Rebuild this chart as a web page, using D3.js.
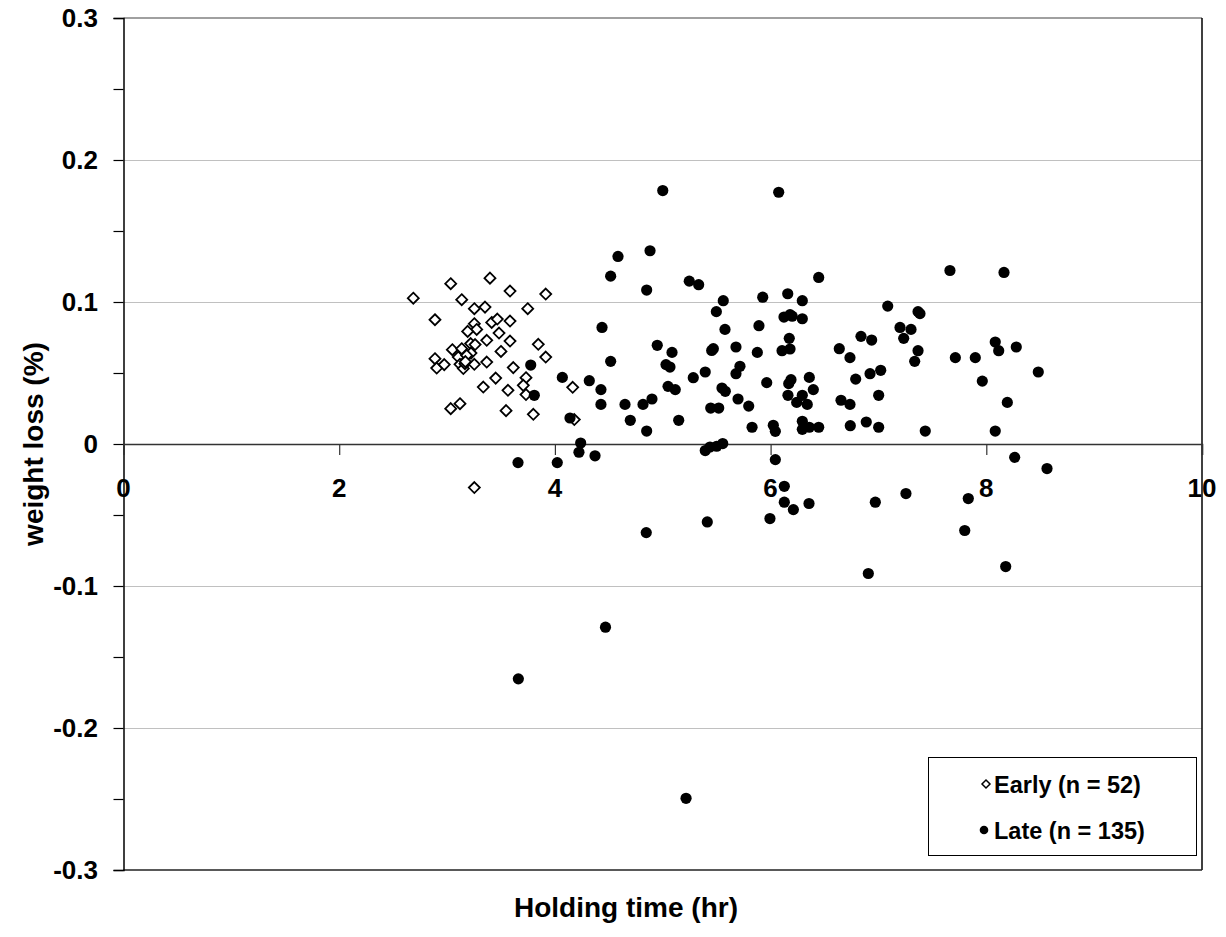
<!DOCTYPE html>
<html>
<head>
  <meta charset="utf-8">
  <script src="https://d3js.org/d3.v7.min.js"></script>
  <style>
    body { margin: 0; background: #fff; }
    text { font-family: "Liberation Sans", Arial, sans-serif; font-weight: bold; fill: #000; }
  </style>
</head>
<body>
  <div id="chart"></div>
  <script>
    // Early (diamonds)
    var earlyX = [2.687, 3.034, 3.398, 3.584, 3.915, 3.136, 3.253, 3.352, 3.748, 2.888,
                  3.253, 3.414, 3.466, 3.584, 3.275, 3.191, 3.482, 3.368, 3.584, 3.219,
                  3.846, 3.049, 3.136, 3.500, 3.222, 3.104, 3.182, 3.915, 2.888, 2.904,
                  2.974, 3.120, 3.151, 3.166, 3.253, 3.368, 3.614, 3.451, 3.732, 3.336,
                  3.707, 3.565, 3.732, 4.165, 3.034, 3.120, 3.547, 3.800, 4.180, 3.253,
                  3.170, 3.260];
    var earlyY = [0.1027, 0.1129, 0.1168, 0.1077, 0.1056, 0.1016, 0.0953, 0.0964, 0.0953, 0.0875,
                  0.0847, 0.0856, 0.0880, 0.0866, 0.0807, 0.0793, 0.0781, 0.0730, 0.0725, 0.0707,
                  0.0702, 0.0664, 0.0671, 0.0652, 0.0640, 0.0612, 0.0624, 0.0612, 0.0601, 0.0535,
                  0.0559, 0.0561, 0.0531, 0.0566, 0.0561, 0.0577, 0.0538, 0.0464, 0.0467, 0.0401,
                  0.0413, 0.0378, 0.0348, 0.0399, 0.0249, 0.0284, 0.0235, 0.0209, 0.0172, -0.0307,
                  0.0580, 0.0700];

    // Late (filled circles)
    var lateX = [3.776, 4.069, 4.319, 4.437, 4.427, 4.427, 3.809, 4.140, 4.239, 4.223,
                 4.372, 3.658, 4.022, 5.000, 6.075, 4.585, 4.882, 4.517, 4.851, 5.246,
                 5.333, 6.446, 5.561, 5.497, 5.927, 6.159, 6.294, 6.124, 6.180, 6.294,
                 5.892, 5.577, 6.173, 4.949, 5.086, 5.454, 5.469, 5.679, 5.877, 6.106,
                 6.180, 4.517, 5.030, 5.067, 5.716, 5.679, 5.394, 5.283, 5.964, 6.359,
                 6.168, 6.189, 6.396, 5.049, 5.116, 5.549, 5.580, 5.698, 5.797, 6.161,
                 6.242, 6.294, 6.340, 4.650, 4.817, 4.900, 5.445, 5.519, 4.699, 5.148,
                 4.851, 5.828, 6.025, 6.044, 6.294, 6.294, 6.359, 6.446, 5.394, 5.438,
                 5.500, 5.556, 6.044, 7.663, 8.164, 7.086, 7.367, 7.385, 7.200, 7.302,
                 7.234, 6.838, 6.937, 6.637, 6.736, 7.367, 7.336, 7.713, 7.898, 8.083,
                 8.115, 8.278, 8.482, 7.963, 6.789, 6.922, 7.021, 6.653, 6.736, 7.002,
                 8.195, 6.739, 6.887, 7.002, 7.434, 8.083, 8.263, 8.563, 6.127, 6.127,
                 6.211, 6.356, 5.994, 5.413, 4.847, 4.469, 6.971, 7.255, 7.833, 7.800,
                 8.180, 6.906, 3.661, 5.216, 6.200];
    var lateY = [0.0556, 0.0469, 0.0446, 0.0821, 0.0383, 0.0279, 0.0343, 0.0183, 0.0007, -0.0058,
                 -0.0083, -0.0131, -0.0131, 0.1785, 0.1773, 0.1321, 0.1361, 0.1182, 0.1084, 0.1147,
                 0.1122, 0.1173, 0.1009, 0.0932, 0.1034, 0.1058, 0.1009, 0.0894, 0.0911, 0.0882,
                 0.0833, 0.0807, 0.0744, 0.0695, 0.0645, 0.0659, 0.0671, 0.0683, 0.0645, 0.0657,
                 0.0669, 0.0582, 0.0559, 0.0542, 0.0547, 0.0495, 0.0507, 0.0467, 0.0432, 0.0469,
                 0.0425, 0.0453, 0.0383, 0.0406, 0.0383, 0.0394, 0.0371, 0.0317, 0.0267, 0.0343,
                 0.0293, 0.0343, 0.0279, 0.0279, 0.0279, 0.0317, 0.0253, 0.0253, 0.0167, 0.0167,
                 0.0091, 0.0118, 0.0132, 0.0089, 0.0160, 0.0103, 0.0118, 0.0118, -0.0046, -0.0021,
                 -0.0016, 0.0003, -0.0110, 0.1222, 0.1208, 0.0971, 0.0932, 0.0918, 0.0821, 0.0807,
                 0.0744, 0.0758, 0.0732, 0.0671, 0.0608, 0.0657, 0.0582, 0.0608, 0.0608, 0.0718,
                 0.0657, 0.0683, 0.0507, 0.0443, 0.0457, 0.0495, 0.0519, 0.0308, 0.0279, 0.0343,
                 0.0293, 0.0129, 0.0155, 0.0118, 0.0091, 0.0091, -0.0094, -0.0173, -0.0298, -0.0410,
                 -0.0462, -0.0419, -0.0525, -0.0549, -0.0624, -0.1290, -0.0410, -0.0349, -0.0384, -0.0609,
                 -0.0863, -0.0912, -0.1654, -0.2495, 0.0900];

    var xTicks = [0, 2, 4, 6, 8, 10];
    var yTicks = [0.3, 0.2, 0.1, 0, -0.1, -0.2, -0.3];
    var yMinorTicks = [0.3, 0.25, 0.2, 0.15, 0.1, 0.05, 0, -0.05, -0.1, -0.15, -0.2, -0.25, -0.3];
    var legendLabels = ["Early (n = 52)", "Late (n = 135)"];

    var width = 1226, height = 937;
    var plotLeft = 123.5, plotRight = 1202, plotTop = 18, plotBottom = 870;

    var x = d3.scaleLinear().domain([0, 10]).range([plotLeft, plotRight]);
    var y = d3.scaleLinear().domain([-0.3, 0.3]).range([plotBottom, plotTop]);

    var svg = d3.select("#chart").append("svg")
      .attr("width", width)
      .attr("height", height);

    // gridlines
    svg.append("g")
      .selectAll("line")
      .data([0.2, 0.1, -0.1, -0.2])
      .enter().append("line")
      .attr("x1", plotLeft).attr("x2", plotRight)
      .attr("y1", function (d) { return Math.round(y(d)) + 0.5; })
      .attr("y2", function (d) { return Math.round(y(d)) + 0.5; })
      .attr("stroke", "#c0c0c0")
      .attr("stroke-width", 1);

    // plot frame: top gray, right & bottom dark
    svg.append("line")
      .attr("x1", plotLeft).attr("x2", plotRight)
      .attr("y1", y(0.3)).attr("y2", y(0.3))
      .attr("stroke", "#808080").attr("stroke-width", 1.5);
    svg.append("line")
      .attr("x1", plotRight).attr("x2", plotRight)
      .attr("y1", plotTop).attr("y2", plotBottom)
      .attr("stroke", "#000").attr("stroke-width", 1.5);
    svg.append("line")
      .attr("x1", plotLeft).attr("x2", plotRight)
      .attr("y1", plotBottom).attr("y2", plotBottom)
      .attr("stroke", "#222").attr("stroke-width", 1.5);

    // y axis
    var yAxis = d3.axisLeft(y)
      .tickValues(yMinorTicks)
      .tickSize(10)
      .tickFormat("");
    var yg = svg.append("g")
      .attr("transform", "translate(" + plotLeft + ",0)")
      .call(yAxis);
    yg.select(".domain").attr("stroke", "#000").attr("stroke-width", 1.5);
    yg.selectAll(".tick line").attr("stroke", "#000").attr("stroke-width", 1.2);

    svg.append("g")
      .selectAll("text")
      .data(yTicks)
      .enter().append("text")
      .attr("x", 98)
      .attr("y", function (d) { return y(d); })
      .attr("dy", "0.36em")
      .attr("text-anchor", "end")
      .attr("font-size", 26)
      .text(function (d) { return String(d); });

    // x axis at y = 0
    var xAxis = d3.axisBottom(x)
      .tickValues(xTicks)
      .tickSize(11)
      .tickFormat("");
    var xg = svg.append("g")
      .attr("transform", "translate(0," + y(0) + ")")
      .call(xAxis);
    xg.select(".domain").attr("stroke", "#333").attr("stroke-width", 1.5);
    xg.selectAll(".tick line").attr("stroke", "#333").attr("stroke-width", 1.2);

    svg.append("g")
      .selectAll("text")
      .data(xTicks)
      .enter().append("text")
      .attr("x", function (d) { return x(d); })
      .attr("y", y(0) + 53)
      .attr("text-anchor", "middle")
      .attr("font-size", 26)
      .text(function (d) { return d; });

    // axis titles
    svg.append("text")
      .attr("x", 626)
      .attr("y", 917)
      .attr("text-anchor", "middle")
      .attr("font-size", 28)
      .text("Holding time (hr)");

    svg.append("text")
      .attr("transform", "translate(43," + y(0) + ") rotate(-90)")
      .attr("text-anchor", "middle")
      .attr("font-size", 28)
      .text("weight loss (%)");

    // markers
    var diamond = function (r) {
      return "M0," + (-r) + "L" + r + ",0L0," + r + "L" + (-r) + ",0Z";
    };

    svg.append("g")
      .selectAll("path")
      .data(d3.range(earlyX.length))
      .enter().append("path")
      .attr("transform", function (i) { return "translate(" + x(earlyX[i]) + "," + y(earlyY[i]) + ")"; })
      .attr("d", diamond(5.5))
      .attr("fill", "#fff")
      .attr("stroke", "#000")
      .attr("stroke-width", 1.8);

    svg.append("g")
      .selectAll("circle")
      .data(d3.range(lateX.length))
      .enter().append("circle")
      .attr("cx", function (i) { return x(lateX[i]); })
      .attr("cy", function (i) { return y(lateY[i]); })
      .attr("r", 5.6)
      .attr("fill", "#000");

    // legend
    var lg = svg.append("g");
    lg.append("rect")
      .attr("x", 928.5).attr("y", 757.5)
      .attr("width", 268).attr("height", 98)
      .attr("fill", "#fff")
      .attr("stroke", "#000").attr("stroke-width", 1);

    lg.append("path")
      .attr("transform", "translate(986,784)")
      .attr("d", diamond(4))
      .attr("fill", "#fff").attr("stroke", "#000").attr("stroke-width", 1.5);
    lg.append("circle")
      .attr("cx", 984).attr("cy", 830).attr("r", 4.3)
      .attr("fill", "#000");

    lg.selectAll("text.lbl")
      .data(legendLabels)
      .enter().append("text")
      .attr("class", "lbl")
      .attr("x", 994)
      .attr("y", function (d, i) { return 793 + i * 46; })
      .attr("font-size", 23.5)
      .text(function (d) { return d; });
  </script>
</body>
</html>
